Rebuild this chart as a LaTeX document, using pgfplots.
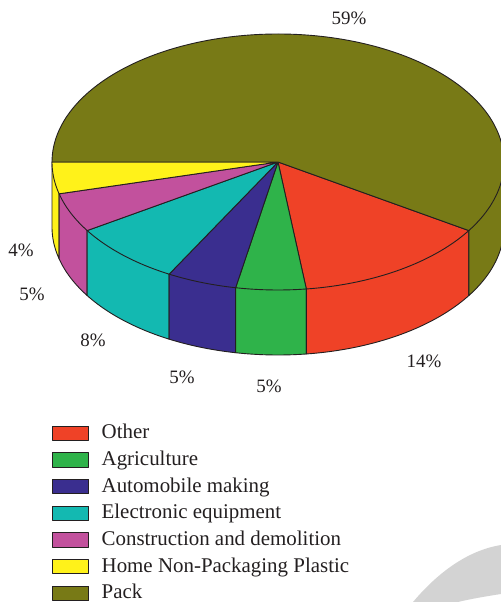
\documentclass[border=0pt]{standalone}
\usepackage{pgfplots}
\pgfplotsset{compat=1.18}
\usepackage{fontspec}
\setmainfont{Liberation Serif}
\definecolor{cOther}{HTML}{EF4227}
\definecolor{cAgri}{HTML}{2FB34A}
\definecolor{cAuto}{HTML}{3A2E8F}
\definecolor{cElec}{HTML}{13B9B1}
\definecolor{cCons}{HTML}{C2519D}
\definecolor{cHome}{HTML}{FFF21A}
\definecolor{cPack}{HTML}{787A16}
\definecolor{edge}{HTML}{231F20}
\definecolor{wm}{HTML}{D3D3D3}
% shares in percent
\def\vHome{4}\def\vCons{5}\def\vElec{8}\def\vAuto{5}\def\vAgri{5}\def\vOther{14}\def\vPack{59}
\pgfmathsetmacro\tA{-180}
\pgfmathsetmacro\tB{\tA+3.6*\vHome}
\pgfmathsetmacro\tC{\tB+3.6*\vCons}
\pgfmathsetmacro\tD{\tC+3.6*\vElec}
\pgfmathsetmacro\tE{\tD+3.6*\vAuto}
\pgfmathsetmacro\tF{\tE+3.6*\vAgri}
\pgfmathsetmacro\tG{\tF+3.6*\vOther}
\pgfmathsetmacro\tH{\tG+3.6*\vPack}
\newcommand\pieside[3]{%
  \addplot[fill=#3, draw=edge, line width=0.9bp, line join=round, domain=#1:#2, samples=50, variable=\t, forget plot]
  ({278+226*cos(\t)},{375+128*sin(\t)})
  -- (axis cs:{278+226*cos(#2)},{440+128*sin(#2)})
  -- (axis cs:278,440)
  -- (axis cs:{278+226*cos(#1)},{440+128*sin(#1)})
  -- cycle;}
\newcommand\pietop[4]{%
  \addplot[fill=#3, draw=edge, line width=0.9bp, line join=round, domain=#1:#2, samples=#4, variable=\t]
  ({278+226*cos(\t)},{440+128*sin(\t)})
  -- (axis cs:278,440) -- cycle;}
\begin{document}
\begin{tikzpicture}
\begin{axis}[
  x=1bp, y=1bp, xmin=0, xmax=501, ymin=0, ymax=602,
  scale only axis, hide axis, clip=false,
  legend style={at={(52/501,177/602)}, anchor=north west, draw=none, fill=none,
    inner sep=0pt, font=\fontsize{21}{21}\selectfont, text=edge,
    row sep=8.7bp, nodes={inner sep=0pt, text height=13.5bp, text depth=4.5bp, anchor=base west}},
  legend cell align=left,
  legend image code/.code={%
    \draw[#1, line width=0.9bp] (0bp,-1.7bp) rectangle (36bp,12.7bp);
    \path[draw=none, fill=none] (0bp,0bp) -- (49bp,0bp);},
]
% watermark
\fill[wm] (axis cs:413,0) .. controls (axis cs:440,32) and (axis cs:470,52) .. (axis cs:501,57)
  -- (axis cs:501,8) .. controls (axis cs:488,6) and (axis cs:470,3) .. (axis cs:458,0) -- cycle;
% sides
\pieside{\tA}{\tB}{cHome}
\pieside{\tB}{\tC}{cCons}
\pieside{\tC}{\tD}{cElec}
\pieside{\tD}{\tE}{cAuto}
\pieside{\tE}{\tF}{cAgri}
\pieside{\tF}{\tG}{cOther}
\pieside{\tG}{0}{cPack}
% tops (legend order)
\pietop{\tF}{\tG}{cOther}{40}\addlegendentry{Other}
\pietop{\tE}{\tF}{cAgri}{20}\addlegendentry{Agriculture}
\pietop{\tD}{\tE}{cAuto}{20}\addlegendentry{Automobile making}
\pietop{\tC}{\tD}{cElec}{25}\addlegendentry{Electronic equipment}
\pietop{\tB}{\tC}{cCons}{20}\addlegendentry{Construction and demolition}
\pietop{\tA}{\tB}{cHome}{20}\addlegendentry{Home Non-Packaging Plastic}
\pietop{\tG}{\tH}{cPack}{140}\addlegendentry{Pack}
% percentage labels
\begin{scope}[every node/.style={font=\fontsize{19}{19}\selectfont, text=edge, inner sep=0pt}]
\node at (axis cs:349,584) {59\%};
\node at (axis cs:424,241) {14\%};
\node at (axis cs:269,216) {5\%};
\node at (axis cs:182,225) {5\%};
\node at (axis cs:93,262) {8\%};
\node at (axis cs:32,308) {5\%};
\node at (axis cs:21,352) {4\%};
\end{scope}
\end{axis}
\pgfresetboundingbox
\path (current axis.south west) rectangle (current axis.north east);
\end{tikzpicture}
\end{document}
